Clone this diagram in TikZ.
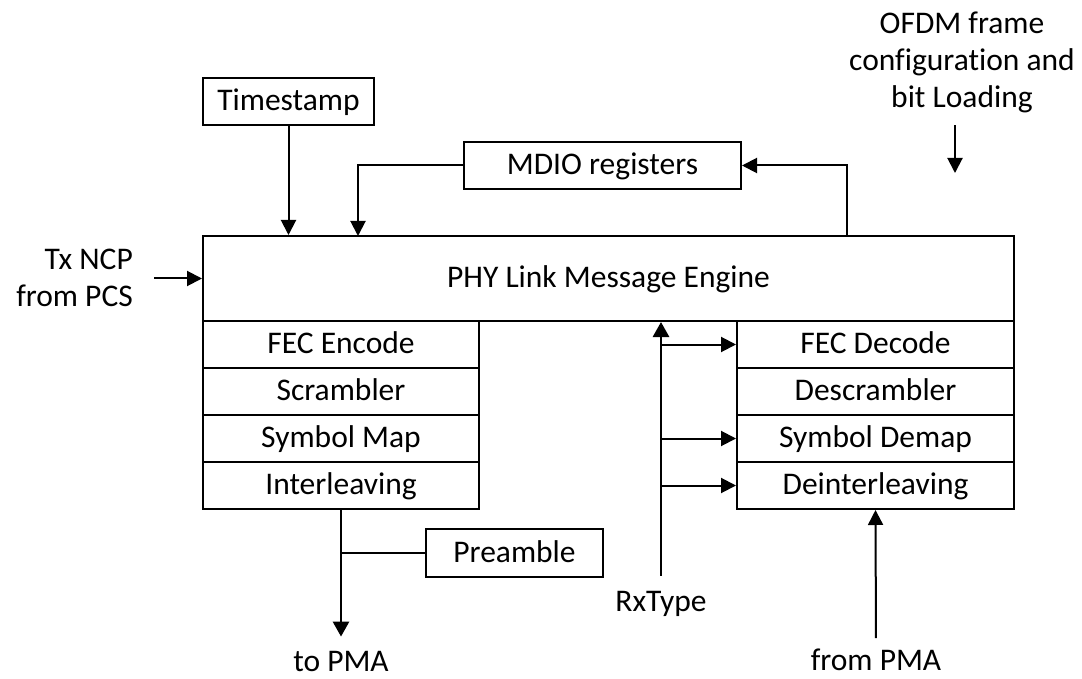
\documentclass[tikz,border=0pt]{standalone}
\usepackage{fontspec}
\setmainfont{Carlito}[Ligatures=NoCommon]
\usetikzlibrary{arrows.meta}
\tikzset{
	blk/.style={draw,line width=2pt,inner sep=0pt,text height=20pt,text depth=2pt,minimum height=47pt},
	lbl/.style={inner sep=0pt,align=center},
	arr/.style={line width=2pt,-{Triangle[length=15pt,width=15pt]}},
	thickarr/.style={line width=2.8pt,-{Triangle[length=15pt,width=16pt]}}
}
\begin{document}
\begin{tikzpicture}[x=1pt,y=-1pt,font=\fontsize{31.5}{37}\selectfont]
	\useasboundingbox (0,0) rectangle (1082,679);
	\node[blk,minimum width=811pt,minimum height=85pt] (eng) at (608.5,278.5) {PHY Link Message Engine};
	\node[blk,minimum width=171pt] (ts) at (288.5,101.5) {Timestamp};
	\node[blk,minimum width=277pt] (mdio) at (602.5,165.5) {MDIO registers};
	\node[lbl,align=right,anchor=north east] (tx) at (133,249) {Tx NCP\\from PCS};
	\node[lbl,anchor=north] (ofdm) at (962,12) {OFDM frame\\configuration and\\bit Loading};
	% transmit side
	\node[blk,minimum width=276pt] (fecenc) at (341,344.5) {FEC Encode};
	\node[blk,minimum width=276pt] (scr) at (341,391.5) {Scrambler};
	\node[blk,minimum width=276pt] (symmap) at (341,438.5) {Symbol Map};
	\node[blk,minimum width=276pt] (intl) at (341,485.5) {Interleaving};
	\node[blk,minimum width=177pt,minimum height=48pt] (pre) at (514.5,553) {Preamble};
	\node[lbl,anchor=base] (tpma) at (341,671) {to PMA};
	% receive side
	\node[blk,minimum width=277pt] (fecdec) at (875.5,344.5) {FEC Decode};
	\node[blk,minimum width=277pt] (dscr) at (875.5,391.5) {Descrambler};
	\node[blk,minimum width=277pt] (symdem) at (875.5,438.5) {Symbol Demap};
	\node[blk,minimum width=277pt] (deint) at (875.5,485.5) {Deinterleaving};
	\node[lbl,anchor=base] (rx) at (661,611) {RxType};
	\node[lbl,anchor=base] (fpma) at (876,670) {from PMA};
	\coordinate (mdin) at (358,236);
	\coordinate (mdout) at (847,236);
	\coordinate (ofdmtip) at (955,173);
	\draw[arr] (ts.south) -- (ts.south |- eng.north);
	\draw[arr] (mdio.west) -| (mdin);
	\draw[arr] (mdout) |- (mdio.east);
	\draw[arr,shorten <=12pt] (ofdm.south -| ofdmtip) -- (ofdmtip);
	\draw[arr,shorten <=21pt] (tx.east |- eng.west) -- (eng.west);
	\draw[thickarr,shorten >=14pt] (intl.south) -- (tpma.north);
	\draw[line width=2pt] (pre.west) -- (pre.west -| intl.south);
	\draw[thickarr,shorten <=15pt] (rx.north) -- (rx.north |- eng.south);
	\draw[arr] (rx.north |- fecdec.west) -- (fecdec.west);
	\draw[arr] (rx.north |- symdem.west) -- (symdem.west);
	\draw[arr] (rx.north |- deint.west) -- (deint.west);
	\draw[arr,shorten <=10pt] (fpma.north) -- (deint.south);
\end{tikzpicture}
\end{document}
